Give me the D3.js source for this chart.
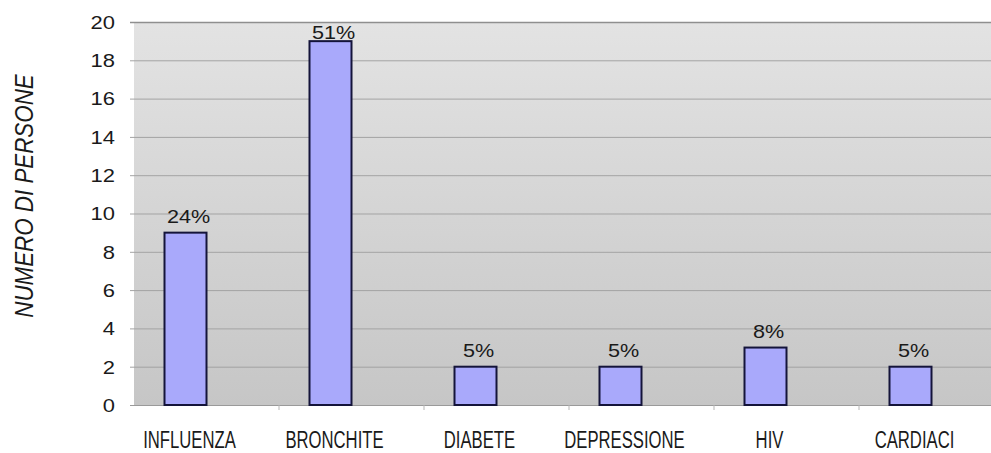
<!DOCTYPE html>
<html>
<head>
<meta charset="utf-8">
<script src="https://cdn.jsdelivr.net/npm/d3@7"></script>
<style>
  html, body { margin: 0; padding: 0; background: #fff; }
  svg { display: block; }
</style>
</head>
<body>
<svg id="chart" width="991" height="453"></svg>
<script>
// Malattie riscontrate e numero di persone
const categories = ["INFLUENZA", "BRONCHITE", "DIABETE", "DEPRESSIONE", "HIV", "CARDIACI"];
const values = [9, 19, 2, 2, 3, 2];
const percentLabels = ["24%", "51%", "5%", "5%", "8%", "5%"];
const yTicks = [0, 2, 4, 6, 8, 10, 12, 14, 16, 18, 20];
const yTitle = "NUMERO DI PERSONE";

const W = 991, H = 453;
const plot = { left: 134, top: 22, right: 1004, bottom: 405 };
const sans = "Liberation Sans, Arial, sans-serif";

const svg = d3.select("#chart");

const defs = svg.append("defs");
const grad = defs.append("linearGradient")
  .attr("id", "bg").attr("x1", 0).attr("y1", 0).attr("x2", 0).attr("y2", 1);
grad.append("stop").attr("offset", "0%").attr("stop-color", "#e3e3e3");
grad.append("stop").attr("offset", "100%").attr("stop-color", "#c6c6c6");

const x = d3.scaleBand()
  .domain(categories)
  .range([113, 983])
  .paddingInner(0).paddingOuter(0);
const cx = d => x(d) + x.bandwidth() / 2;

const y = d3.scaleLinear()
  .domain([0, 20])
  .range([plot.bottom, plot.top]);

// plot background
svg.append("rect")
  .attr("x", plot.left).attr("y", plot.top)
  .attr("width", plot.right - plot.left)
  .attr("height", plot.bottom - plot.top)
  .attr("fill", "url(#bg)");

// horizontal gridlines
svg.append("g")
  .selectAll("line")
  .data(yTicks.filter(d => d > 0))
  .join("line")
  .attr("x1", plot.left - 4).attr("x2", W)
  .attr("y1", d => y(d) + 0.5).attr("y2", d => y(d) + 0.5)
  .attr("stroke", d => d === 20 ? "#8f8f8f" : "#a3a3a3")
  .attr("stroke-width", d => d === 20 ? 1.5 : 1);

// y axis labels (wide Helvetica-style digits)
const yAxis = d3.axisLeft(y).tickValues(yTicks).tickSize(0).tickPadding(0);
const gy = svg.append("g")
  .attr("transform", `translate(${plot.left - 19},0)`)
  .call(yAxis);
gy.select(".domain").remove();
gy.selectAll("text")
  .attr("font-family", sans)
  .attr("font-size", 18)
  .attr("fill", "#1a1a1a")
  .attr("x", 0)
  .attr("dy", "0.35em")
  .attr("transform", "scale(1.22,1)");

// x axis baseline
svg.append("line")
  .attr("x1", plot.left - 4).attr("x2", W)
  .attr("y1", plot.bottom + 0.5).attr("y2", plot.bottom + 0.5)
  .attr("stroke", "#9a9a9a").attr("stroke-width", 1.2);

// small category separators below the baseline
svg.append("g")
  .selectAll("line")
  .data(categories.slice(1))
  .join("line")
  .attr("x1", d => x(d) + 21).attr("x2", d => x(d) + 21)
  .attr("y1", plot.bottom).attr("y2", plot.bottom + 5)
  .attr("stroke", "#b5b5b5").attr("stroke-width", 1);

// bars
const barW = 42;
svg.append("g")
  .selectAll("rect")
  .data(values)
  .join("rect")
  .attr("x", (d, i) => cx(categories[i]) - barW / 2)
  .attr("y", d => y(d))
  .attr("width", barW)
  .attr("height", d => y(0) - y(d))
  .attr("fill", "#a9a9fb")
  .attr("stroke", "#14143a")
  .attr("stroke-width", 2);

// percentage labels
svg.append("g")
  .selectAll("text")
  .data(values)
  .join("text")
  .attr("transform", (d, i) =>
    `translate(${cx(categories[i]) + 3},${Math.max(y(d) - 10, plot.top + 17)}) scale(1.2,1)`)
  .attr("text-anchor", "middle")
  .attr("font-family", sans)
  .attr("font-size", 18)
  .attr("fill", "#1a1a1a")
  .text((d, i) => percentLabels[i]);

// category labels (condensed)
svg.append("g")
  .selectAll("text")
  .data(categories)
  .join("text")
  .attr("transform", d => `translate(${cx(d) + 4},448) scale(0.71,1)`)
  .attr("text-anchor", "middle")
  .attr("font-family", sans)
  .attr("font-size", 23.5)
  .attr("fill", "#1a1a1a")
  .text(d => d);

// y axis title
svg.append("text")
  .attr("transform", `translate(33,196) rotate(-90) scale(0.86,1)`)
  .attr("text-anchor", "middle")
  .attr("font-family", sans)
  .attr("font-size", 26)
  .attr("font-style", "italic")
  .attr("fill", "#1a1a1a")
  .text(yTitle);
</script>
</body>
</html>
